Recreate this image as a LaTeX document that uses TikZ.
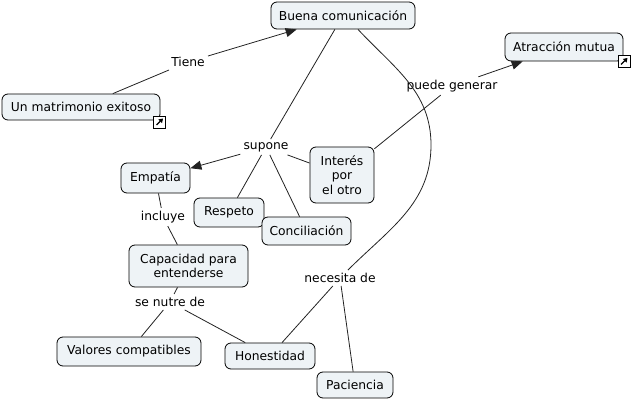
\documentclass[tikz,border=0pt]{standalone}
\usepackage{fontspec}
\setmainfont{DejaVu Sans}
\usetikzlibrary{arrows.meta}
\definecolor{nodefill}{HTML}{EEF3F6}
\definecolor{linec}{HTML}{222222}
\begin{document}
\begin{tikzpicture}[x=1pt,y=-1pt,
 concept/.style={draw=black, fill=nodefill, rounded corners=6pt, line width=0.8pt, font=\fontsize{12.3}{14.8}\selectfont, align=center, inner sep=0pt},
 link/.style={font=\fontsize{12.3}{14.8}\selectfont, inner sep=3pt},
 conn/.style={draw=linec, line width=0.8pt},
 arr/.style={conn, -{Triangle[length=11pt,width=9pt]}},
 icon/.style={draw=black, fill=white, line width=0.8pt, minimum size=12pt, inner sep=0pt},
 iconarrow/.style={line width=1.4pt, -{Triangle[length=4pt,width=5pt]}}]
\useasboundingbox (0,0) rectangle (632,401);

% concepts
\node[concept, minimum width=144pt, minimum height=27pt] (buena) at (343,15.5) {Buena comunicación};
\node[concept, minimum width=158pt, minimum height=26pt] (matri) at (81,107) {Un matrimonio exitoso};
\node[concept, minimum width=118pt, minimum height=28pt] (atrac) at (564,47) {Atracción mutua};
\node[concept, minimum width=69pt, minimum height=30pt] (empatia) at (155.5,178) {Empatía};
\node[concept, minimum width=70pt, minimum height=29pt] (respeto) at (229,212.5) {Respeto};
\node[concept, minimum width=89pt, minimum height=28pt] (concil) at (306.5,231) {Conciliación};
\node[concept, minimum width=64pt, minimum height=56pt] (interes) at (342,175) {Interés\\por\\el otro};
\node[concept, minimum width=119pt, minimum height=42pt] (capac) at (188.5,266) {Capacidad para\\entenderse};
\node[concept, minimum width=144pt, minimum height=29pt] (valores) at (129,351.5) {Valores compatibles};
\node[concept, minimum width=90pt, minimum height=26pt] (hones) at (270,356) {Honestidad};
\node[concept, minimum width=76pt, minimum height=26pt] (pacien) at (355,385) {Paciencia};

% link phrases
\node[link] (tiene) at (188,62) {Tiene};
\node[link] (supone) at (266,147) {supone};
\node[link] (puede) at (452,86) {puede generar};
\node[link] (incluye) at (163,217) {incluye};
\node[link] (nutre) at (170,302) {se nutre de};
\node[link] (necesita) at (340,278) {necesita de};
\coordinate (cmid) at (431,145);

% connectors
\draw[conn] (matri) -- (tiene);
\draw[arr] (tiene) -- (buena);
\draw[conn] (buena) -- (supone);
\draw[arr] (supone) -- (empatia);
\draw[conn] (supone) -- (respeto);
\draw[conn] (supone) -- (concil);
\draw[conn] (supone) -- (interes);
\draw[conn] (interes) -- (puede);
\draw[arr] (puede) -- (atrac);
\draw[conn] (empatia) -- (incluye);
\draw[conn] (incluye) -- (capac);
\draw[conn] (capac) -- (nutre);
\draw[conn] (nutre) -- (valores);
\draw[conn] (nutre) -- (hones);
\draw[conn] ([xshift=15pt]buena.south) to[out=-47,in=90] (cmid) to[out=-90,in=45] (necesita);
\draw[conn] (necesita) -- (hones);
\draw[conn] (necesita) -- (pacien);

% link icons
\node[icon] (icon1) at (159.5,122) {};
\draw[iconarrow] ([shift={(-3,3)}]icon1.center) -- ([shift={(3.5,-3.5)}]icon1.center);
\node[icon] (icon2) at (624,61.5) {};
\draw[iconarrow] ([shift={(-3,3)}]icon2.center) -- ([shift={(3.5,-3.5)}]icon2.center);
\end{tikzpicture}
\end{document}
